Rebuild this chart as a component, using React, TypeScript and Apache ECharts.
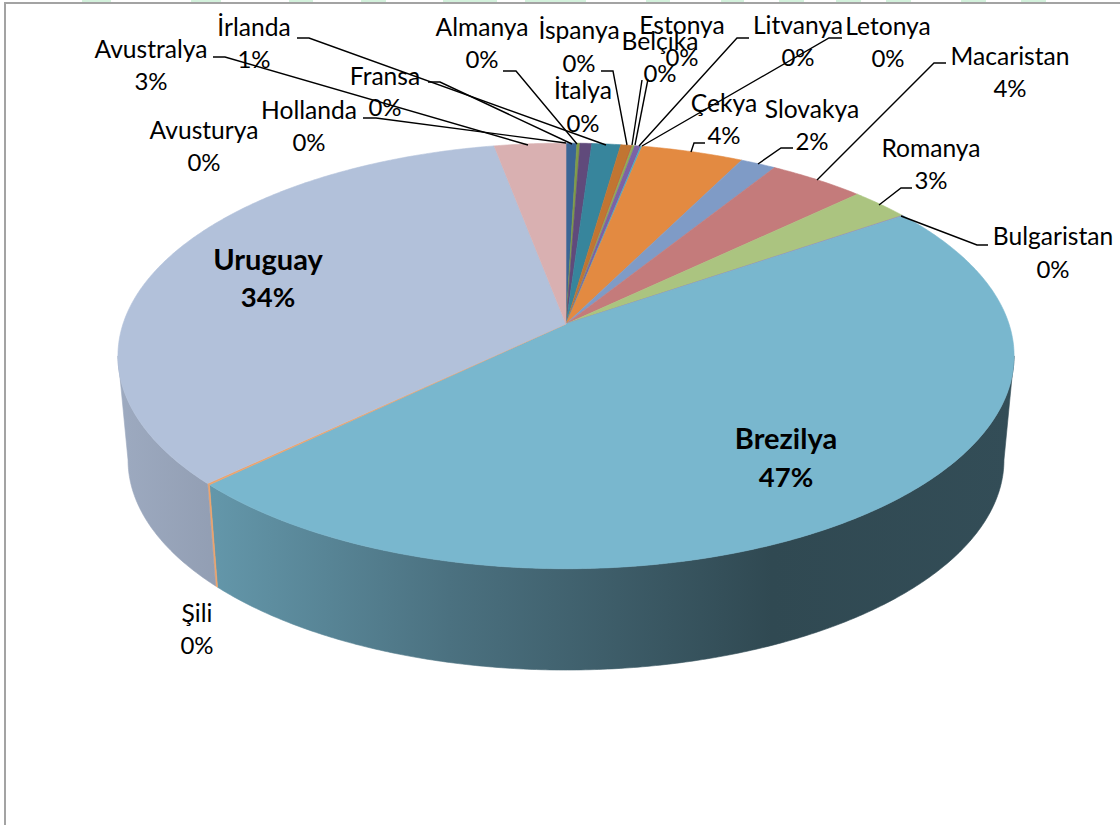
import React, { useEffect, useRef } from "react";
import * as echarts from "echarts";

// ---- data (percent of the whole, clockwise from 12 o'clock) ----
const names = ["Avusturya", "Hollanda", "Fransa", "Almanya", "İtalya", "İrlanda", "İspanya", "Belçika", "Estonya", "Litvanya", "Letonya", "Çekya", "Slovakya", "Macaristan", "Romanya", "Bulgaristan", "Brezilya", "Şili", "Uruguay", "Avustralya"];
const values = [0.0, 0.0, 0.45, 0.13, 0.49, 1.2, 0.46, 0.02, 0.1, 0.25, 0.06, 4.26, 1.48, 4.02, 2.5, 0.04, 47.36, 0.1, 34.1, 2.98];
const percentLabels = ["0%", "0%", "0%", "0%", "0%", "1%", "0%", "0%", "0%", "0%", "0%", "4%", "2%", "4%", "3%", "0%", "47%", "0%", "34%", "3%"];
const topColors = ["#9E5250", "#3A6595", "#3A6595", "#7F9A48", "#604A7B", "#37859C", "#C17532", "#C0504D", "#8FAF55", "#7C62A5", "#4BACC6", "#E38A41", "#7F9BC6", "#C47B7B", "#ABC480", "#9A88B8", "#79B7CE", "#F0A36A", "#B2C1DA", "#D9B0B1"];

// ---- layout: label centres [name centre x, name y, percent y] ----
const labelSpots = [
  [204, 129.5, 161.5], [309, 109.5, 141.5], [385, 75.5, 106.5], [482, 26.5, 58.5], [583, 89.5, 122.5],
  [254, 26.5, 58.5], [579, 29.5, 62.5], [660, 40.5, 72.5], [682, 24.5, 56.5], [798, 24.5, 56.5],
  [888, 25.5, 57.5], [724, 102.5, 134.5], [812, 108.5, 140.5], [1010, 55.5, 87.5], [931, 147.5, 179.5],
  [1053, 235.5, 268.5], [786, 437, 476], [197, 612.5, 644.5], [268, 258, 296], [151, 48.5, 80.5],
];
const leaders: number[][][] = [
  [],
  [[363, 118], [376, 118], [566, 143]],
  [[428, 82], [440, 82], [572, 144]],
  [[503, 71], [516, 71], [577, 144]],
  [],
  [[297, 38], [309, 38], [606, 145]],
  [[601, 71], [613, 71], [627, 145]],
  [[642, 80], [632, 145]],
  [[648, 79], [635, 145]],
  [[749, 38], [737, 38], [639, 146]],
  [[842, 38], [829, 38], [642, 146]],
  [[705, 143], [694, 143], [691, 152]],
  [[793, 148], [781, 148], [758, 164]],
  [[946, 63], [934, 63], [817, 180]],
  [[912, 188], [901, 188], [879, 205]],
  [[988, 245], [977, 245], [901, 216]],
  [],
  [],
  [],
  [[213, 57], [225, 57], [528, 145]],
];
const boldNames = ["Brezilya", "Uruguay"];
const greenMarks = [[82, 29], [191, 30], [289, 24], [361, 25], [443, 54], [525, 61], [646, 24], [721, 23], [779, 25], [836, 25], [886, 25], [961, 25], [1021, 25]];

// ---- perspective projection of the disc ----
const CX = 566;
const K = 0.15;
const TOP = { y0: 324, a: 443, b: 208 };
const BOTTOM = { y0: 428.5, a: 433, b: 205.3 };
const project = (deg: number, p: { y0: number; a: number; b: number }) => {
  const t = (deg * Math.PI) / 180;
  const X = Math.sin(t);
  const Y = -Math.cos(t);
  const w = 1 - K * Y;
  return [CX + (p.a * X) / w, p.y0 + (p.b * Y) / w];
};
const arc = (from: number, to: number, p: { y0: number; a: number; b: number }) => {
  const n = Math.max(1, Math.ceil(Math.abs(to - from) / 0.5));
  const pts: number[][] = [];
  for (let i = 0; i <= n; i++) pts.push(project(from + ((to - from) * i) / n, p));
  return pts;
};
// The wall is visible only between the disc's two left/right extremes.
const WALL_START = (Math.acos(-K) * 180) / Math.PI;
const WALL_END = 360 - WALL_START;

const total = values.reduce((a, b) => a + b, 0);
const ranges: number[][] = [];
values.reduce((acc, v) => {
  ranges.push([(acc / total) * 360, ((acc + v) / total) * 360]);
  return acc + v;
}, 0);

const shade = (hex: string, f: number) => {
  const n = parseInt(hex.slice(1), 16);
  const c = [(n >> 16) & 255, (n >> 8) & 255, n & 255].map((v) => Math.round(v * f));
  return `rgb(${c[0]},${c[1]},${c[2]})`;
};
const shadeStops = [[0, 0.88], [0.11, 0.82], [0.37, 0.62], [0.73, 0.4], [1, 0.42]];
const sideFill = (hex: string) => ({
  type: "linear",
  global: true,
  x: 118,
  y: 0,
  x2: 1014,
  y2: 0,
  colorStops: shadeStops.map(([offset, f]) => ({ offset, color: shade(hex, f) })),
});

const FONT = "Lato, 'Open Sans', sans-serif";

export default function App() {
  const ref = useRef<HTMLDivElement>(null);
  useEffect(() => {
    const chart = echarts.init(ref.current!, undefined, { renderer: "svg" });
    const rows = names.map((_, i) => [i, values[i]]);
    chart.setOption({
      animation: false,
      backgroundColor: "#ffffff",
      graphic: [
        ...greenMarks.map(([x, w]) => ({ type: "rect", shape: { x, y: 0, width: w, height: 2 }, style: { fill: "#D3F1DC" }, silent: true, z: 0 })),
        { type: "rect", shape: { x: 4, y: 2, width: 1116, height: 2 }, style: { fill: "#A3A3A3" }, silent: true, z: 0 },
        { type: "rect", shape: { x: 4, y: 2, width: 2, height: 823 }, style: { fill: "#A3A3A3" }, silent: true, z: 0 },
      ],
      series: [
        {
          type: "custom",
          coordinateSystem: "none",
          z: 1,
          silent: true,
          data: rows,
          renderItem: (_p: any, api: any) => {
            const i = api.value(0);
            const from = Math.max(ranges[i][0], WALL_START);
            const to = Math.min(ranges[i][1], WALL_END);
            if (to <= from) return null;
            const pts = [...arc(from, to, TOP), ...arc(to, from, BOTTOM)];
            const fill = names[i] === "Şili" ? topColors[i] : sideFill(topColors[i]);
            return { type: "polygon", shape: { points: pts }, style: { fill, stroke: fill, lineWidth: 0.6 } };
          },
        },
        {
          type: "custom",
          coordinateSystem: "none",
          z: 2,
          silent: true,
          data: rows,
          renderItem: (_p: any, api: any) => {
            const i = api.value(0);
            if (api.value(1) <= 0) return null;
            const pts = [[CX, TOP.y0], ...arc(ranges[i][0], ranges[i][1], TOP)];
            return { type: "polygon", shape: { points: pts }, style: { fill: topColors[i], stroke: topColors[i], lineWidth: 0.6 } };
          },
        },
        {
          type: "custom",
          coordinateSystem: "none",
          z: 3,
          silent: true,
          data: rows,
          renderItem: (_p: any, api: any) => {
            const i = api.value(0);
            const [x, y1, y2] = labelSpots[i];
            const bold = boldNames.includes(names[i]);
            const nameFont = bold ? `bold 29px ${FONT}` : `24.6px ${FONT}`;
            const pctFont = bold ? `bold 27.5px ${FONT}` : `24px ${FONT}`;
            const children: any[] = [];
            if (leaders[i].length) {
              children.push({ type: "polyline", shape: { points: leaders[i] }, style: { stroke: "#000000", lineWidth: 1.4, fill: "none" } });
            }
            children.push({ type: "text", style: { text: names[i], x, y: y1, align: "center", verticalAlign: "middle", font: nameFont, fill: "#000000" } });
            children.push({ type: "text", style: { text: percentLabels[i], x, y: y2, align: "center", verticalAlign: "middle", font: pctFont, fill: "#000000" } });
            return { type: "group", children };
          },
        },
      ],
    });
    return () => chart.dispose();
  }, []);
  return <div ref={ref} style={{ position: "absolute", left: 0, top: 0, width: 1120, height: 825 }} />;
}
